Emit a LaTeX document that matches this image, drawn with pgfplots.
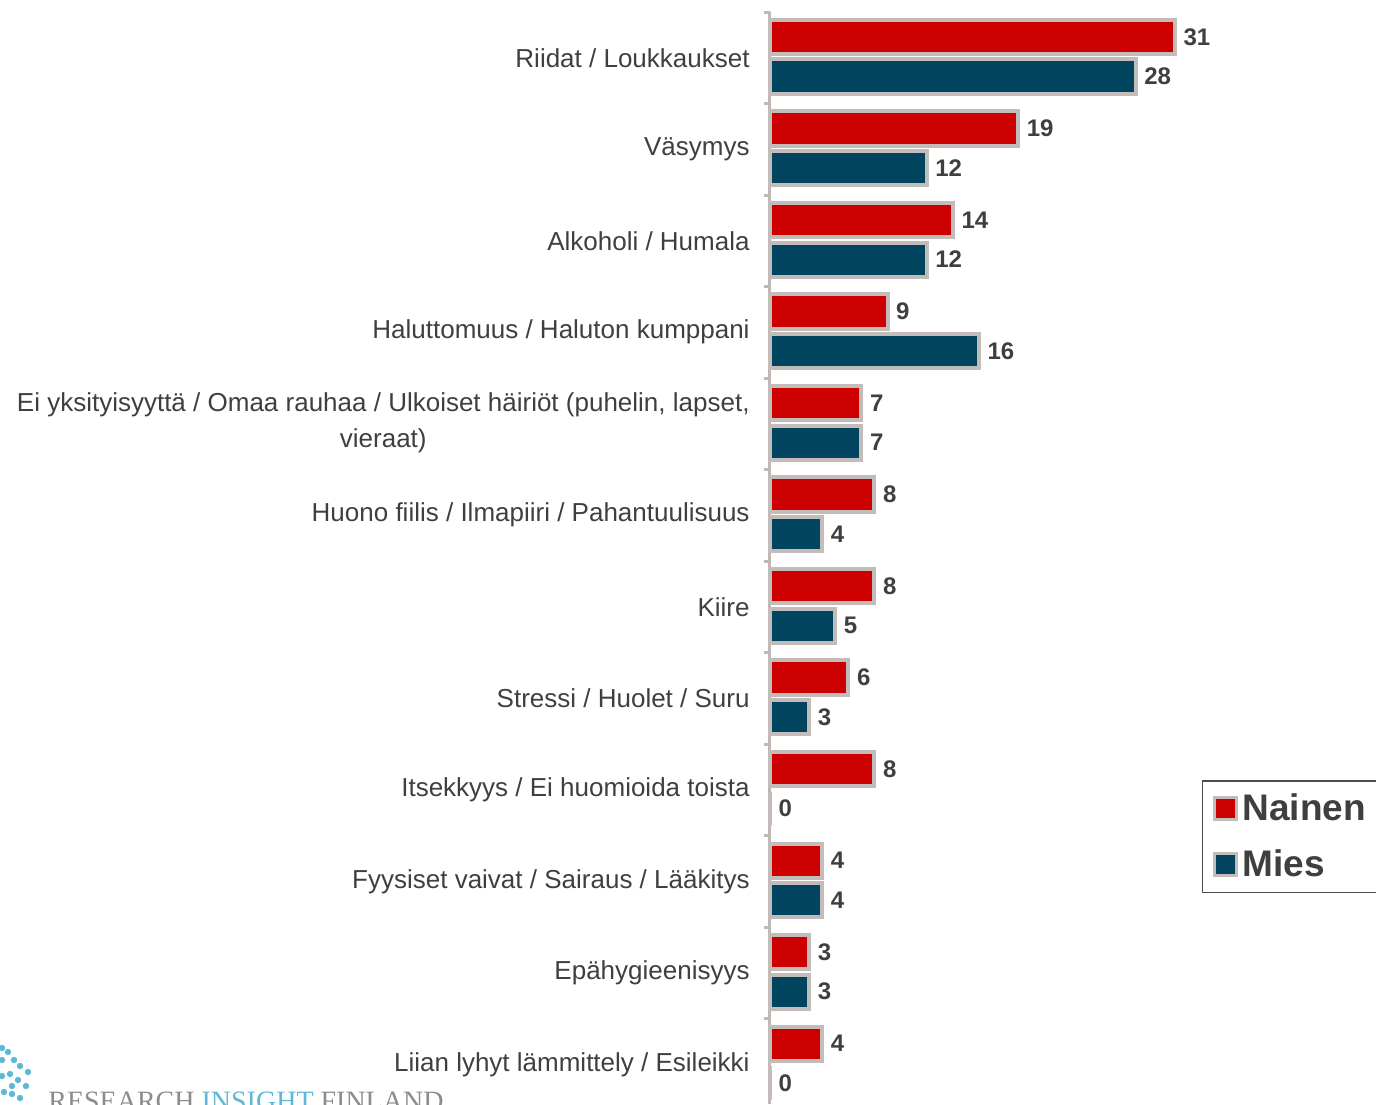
\documentclass[border=0pt]{standalone}
\usepackage{fontspec}
\setmainfont{Liberation Sans}
\newfontfamily\logofont{Liberation Serif}
\usepackage{pgfplots}
\pgfplotsset{compat=1.18}

\definecolor{nred}{HTML}{CC0000}
\definecolor{mblue}{HTML}{00445F}
\definecolor{barline}{HTML}{C4BCB8}
\definecolor{axisgray}{HTML}{BFB8B4}
\definecolor{txt}{HTML}{3F3F3F}
\definecolor{logogray}{HTML}{8C8C8C}
\definecolor{logoblue}{HTML}{5BB8D6}

\begin{document}
\begin{tikzpicture}
\begin{axis}[
scale only axis,
width=303pt,
height=546pt,
xbar,
/pgf/number format/assume math mode=true,
legend image code/.code={\draw[#1,line width=1.5pt] (0pt,-5.5pt) rectangle (11pt,5.5pt);},
bar width=0.372,
xmin=0, xmax=46.4,
ymin=-0.5, ymax=11.434,
y dir=reverse,
axis x line=none,
axis y line*=left,
axis line style={draw=axisgray, line width=1.5pt},
ytick={0,...,11},
major tick length=0pt,
yticklabels={
Riidat / Loukkaukset,
Väsymys,
Alkoholi / Humala,
Haluttomuus / Haluton kumppani,
{\begin{tabular}{@{}c@{}}Ei yksityisyyttä / Omaa rauhaa / Ulkoiset häiriöt (puhelin, lapset,\\[3pt] vieraat)\end{tabular}},
Huono fiilis / Ilmapiiri / Pahantuulisuus\ ,
Kiire,
Stressi / Huolet / Suru,
Itsekkyys / Ei huomioida toista,
Fyysiset vaivat / Sairaus / Lääkitys,
Epähygieenisyys,
Liian lyhyt lämmittely / Esileikki},
yticklabel style={font=\fontsize{13}{15}\selectfont, text=txt, inner sep=0pt, xshift=-10pt},
extra y ticks={-0.5,0.5,1.5,2.5,3.5,4.5,5.5,6.5,7.5,8.5,9.5,10.5},
extra y tick labels={},
extra y tick style={major tick length=3pt, tick align=outside, tick style={draw=axisgray, line width=1.5pt}},
nodes near coords,
nodes near coords style={font=\bfseries\fontsize{12}{14}\selectfont, text=txt, anchor=west},
legend style={at={(axis cs:33.05,7.893)}, anchor=north west, draw=black!70, line width=0.8pt,
  font=\bfseries\fontsize{18.5}{20}\selectfont, text=txt, row sep=9pt, inner xsep=5.5pt, inner ysep=4.5pt,
  /tikz/every even column/.append style={xshift=4pt}},
legend cell align=left,
clip=false,
]
\addplot[fill=nred, draw=barline, line width=2pt, bar shift=-0.227] coordinates {
(31,0) (19,1) (14,2) (9,3) (7,4) (8,5) (8,6) (6,7) (8,8) (4,9) (3,10) (4,11)};
\addplot[fill=mblue, draw=barline, line width=2pt, bar shift=0.205] coordinates {
(28,0) (12,1) (12,2) (16,3) (7,4) (4,5) (5,6) (3,7) (0,8) (4,9) (3,10) (0,11)};
\legend{Nainen\hspace{30pt},Mies}
\end{axis}
\node[anchor=base west, inner sep=0pt, font=\logofont\fontsize{14}{16}\selectfont]
  at ([xshift=-361pt,yshift=-3pt]current axis.south west)
  {\textcolor{logogray}{RESEARCH} \textcolor{logoblue}{INSIGHT} \textcolor{logogray}{FINLAND}};
\foreach \dx/\dy in {-384/22,-381/26,-378/22,-375/19,-384/14,-380/15,-376/12,-372/9,-383/6,-379/5,-375/3,-384/28,-371/16,-379/9}
  \fill[logoblue] ([xshift=\dx pt, yshift=\dy pt]current axis.south west) circle (1.6pt);
\pgfresetboundingbox
\path[use as bounding box] ([xshift=-385pt]current axis.south west) rectangle ([yshift=6pt]current axis.north east);
\end{tikzpicture}
\end{document}
